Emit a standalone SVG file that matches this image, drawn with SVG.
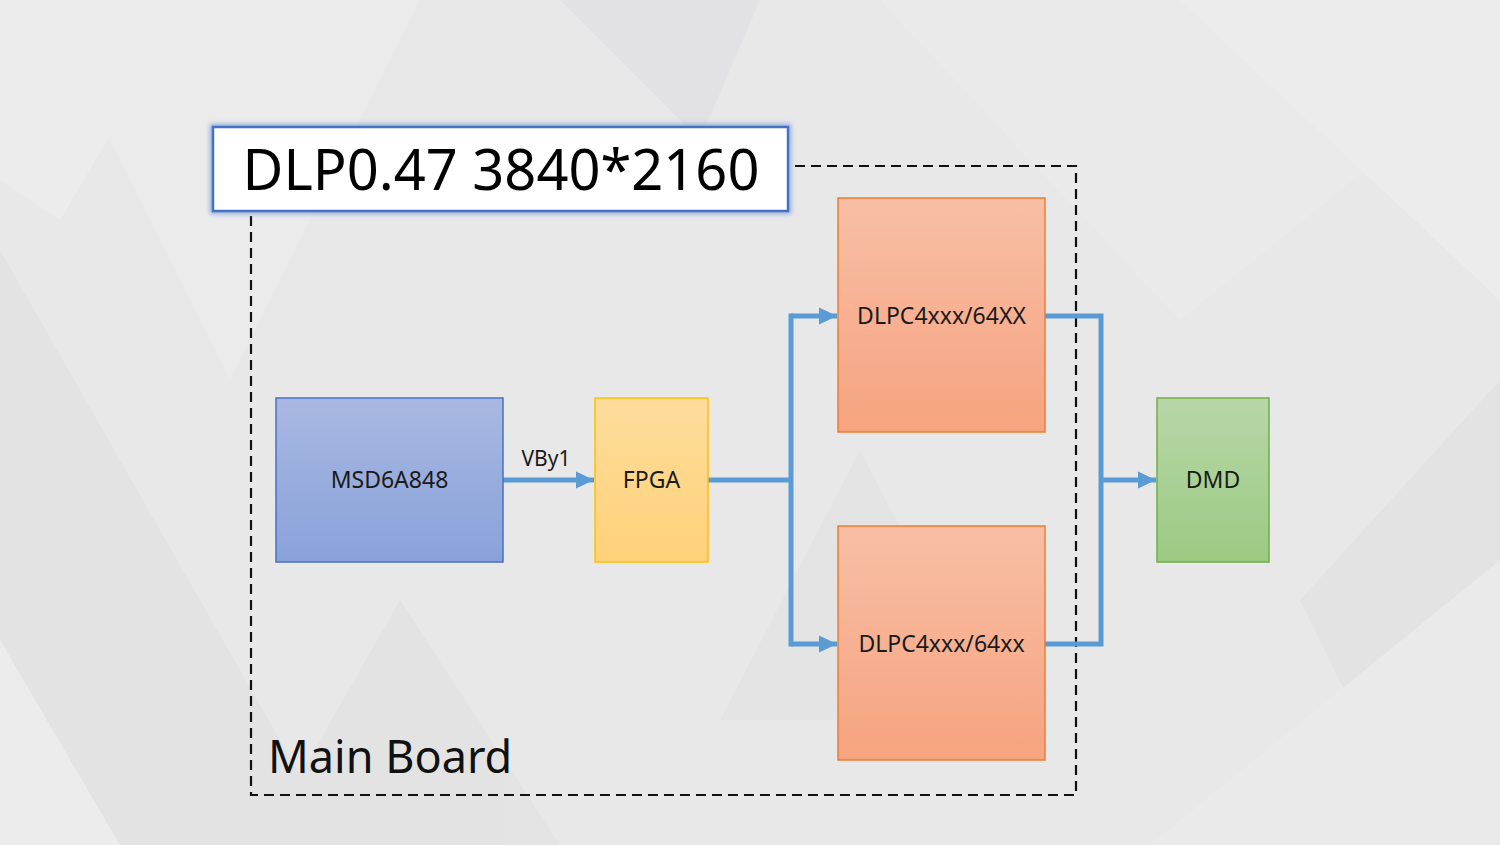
<svg xmlns="http://www.w3.org/2000/svg" width="1500" height="845" viewBox="0 0 1500 845">
<defs>
<linearGradient id="gBlue" x1="0" y1="0" x2="0" y2="1"><stop offset="0" stop-color="#A9B8E2"/><stop offset="1" stop-color="#88A2D9"/></linearGradient>
<linearGradient id="gYel" x1="0" y1="0" x2="0" y2="1"><stop offset="0" stop-color="#FEDC9C"/><stop offset="1" stop-color="#FFD279"/></linearGradient>
<linearGradient id="gOr" x1="0" y1="0" x2="0" y2="1"><stop offset="0" stop-color="#F8BFA4"/><stop offset="1" stop-color="#F6A380"/></linearGradient>
<linearGradient id="gGr" x1="0" y1="0" x2="0" y2="1"><stop offset="0" stop-color="#B7D7A8"/><stop offset="1" stop-color="#9BCA82"/></linearGradient>
<filter id="glow" x="-5%" y="-20%" width="110%" height="140%"><feGaussianBlur stdDeviation="2.5"/></filter>
<marker id="arr" markerWidth="4" markerHeight="4" refX="3.6" refY="2" orient="auto" markerUnits="strokeWidth"><path d="M0,0.3 L3.6,2 L0,3.7 z" fill="#5B9BD5"/></marker>
</defs>
<style>
.lbl{font-family:"Noto Sans","Open Sans","DejaVu Sans",sans-serif;fill:#1a1a1a;text-anchor:middle}
.conn{fill:none;stroke:#5B9BD5;stroke-width:5;stroke-linejoin:miter}
</style>
<rect x="0" y="0" width="1500" height="845" fill="#E8E8E9"/>
<g id="background" opacity="0.45">
<polygon points="0,0 190,0 60,220 0,180" fill="#F2F2F2"/>
<polygon points="40,0 420,0 230,380" fill="#EFEFEF"/>
<polygon points="0,520 190,845 0,845" fill="#F1F1F1"/>
<polygon points="0,250 340,845 120,845 0,640" fill="#DEDEDF"/>
<polygon points="560,0 760,0 700,140" fill="#DCDCDD"/>
<polygon points="880,0 1500,0 1500,60 1180,320" fill="#EEEEEE"/>
<polygon points="1180,0 1500,0 1500,300" fill="#F3F3F3"/>
<polygon points="1300,600 1500,380 1500,845 1420,845" fill="#DEDEDF"/>
<polygon points="860,450 1000,720 720,720" fill="#E0E0E1"/>
<polygon points="1150,845 1500,560 1500,845" fill="#EDEDED"/>
<polygon points="400,600 560,845 260,845" fill="#DFDFE0"/>
</g>
<g id="main-board">
<rect x="251" y="166" width="825" height="629" fill="none" stroke="#111" stroke-width="2.2" stroke-dasharray="10,6"/>
<text x="268" y="773" font-family="Noto Sans,Open Sans,sans-serif" font-size="45" fill="#111">Main Board</text>
</g>
<g id="title">
<rect x="213" y="127" width="575" height="84" fill="none" stroke="#8FAADC" stroke-width="6" filter="url(#glow)"/>
<rect x="213" y="127" width="575" height="84" fill="#FFFFFF" stroke="#4472C4" stroke-width="2.5"/>
<text x="501" y="190" font-family="Noto Sans,Open Sans,sans-serif" font-size="56" fill="#000" text-anchor="middle">DLP0.47 3840*2160</text>
</g>
<g id="connectors">
<line class="conn" x1="503" y1="480" x2="594" y2="480" marker-end="url(#arr)"/>
<polyline class="conn" points="708,480 791,480"/>
<line class="conn" x1="791" y1="316" x2="837" y2="316" marker-end="url(#arr)"/>
<line class="conn" x1="791" y1="644" x2="837" y2="644" marker-end="url(#arr)"/>
<line class="conn" x1="791" y1="313.5" x2="791" y2="646.5"/>
<polyline class="conn" points="1045,316 1101,316 1101,644 1045,644"/>
<line class="conn" x1="1101" y1="480" x2="1156" y2="480" marker-end="url(#arr)"/>
<text x="546" y="466" class="lbl" font-size="21">VBy1</text>
</g>
<g id="msd6a848">
<rect x="276" y="398" width="227" height="164" fill="url(#gBlue)" stroke="#4472C4" stroke-width="1.5"/>
<text x="389.5" y="488" class="lbl" font-size="23">MSD6A848</text>
</g>
<g id="fpga">
<rect x="595" y="398" width="113" height="164" fill="url(#gYel)" stroke="#FFC000" stroke-width="1.5"/>
<text x="651.5" y="488" class="lbl" font-size="23">FPGA</text>
</g>
<g id="dlpc-top">
<rect x="838" y="198" width="207" height="234" fill="url(#gOr)" stroke="#ED7D31" stroke-width="1.5"/>
<text x="941.5" y="324" class="lbl" font-size="23">DLPC4xxx/64XX</text>
</g>
<g id="dlpc-bottom">
<rect x="838" y="526" width="207" height="234" fill="url(#gOr)" stroke="#ED7D31" stroke-width="1.5"/>
<text x="941.5" y="652" class="lbl" font-size="23">DLPC4xxx/64xx</text>
</g>
<g id="dmd">
<rect x="1157" y="398" width="112" height="164" fill="url(#gGr)" stroke="#70AD47" stroke-width="1.5"/>
<text x="1213" y="488" class="lbl" font-size="23">DMD</text>
</g>
</svg>
